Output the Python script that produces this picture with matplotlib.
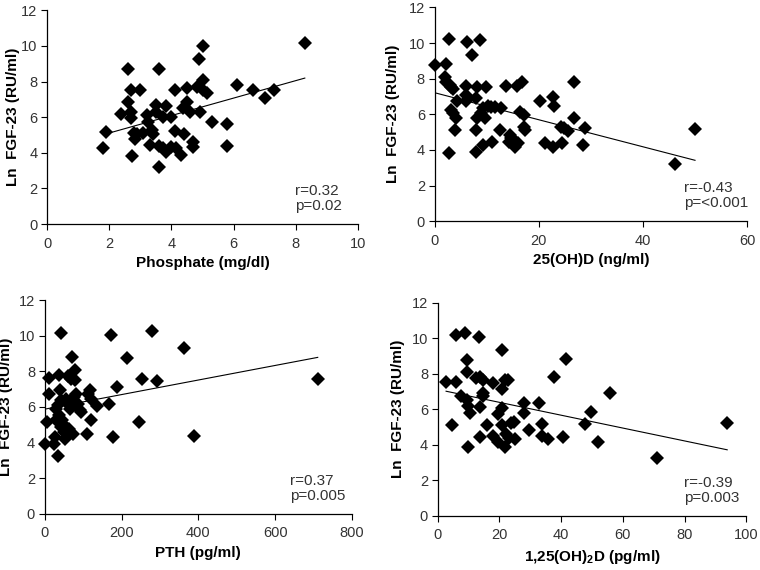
import numpy as np
import matplotlib
matplotlib.use('Agg')
import matplotlib.pyplot as plt

plt.rcParams['font.family'] = ['Liberation Sans', 'DejaVu Sans']
plt.rcParams['mathtext.fontset'] = 'custom'
plt.rcParams['mathtext.rm'] = 'Liberation Sans'
plt.rcParams['mathtext.bf'] = 'Liberation Sans:bold'

# Painel 1: fosfato
phosphate = [1.81, 1.90, 2.38, 2.61, 2.61, 2.69, 2.69, 2.69, 2.72, 2.80, 2.83, 2.88, 2.99, 3.09,
             3.20, 3.23, 3.31, 3.39, 3.42, 3.50, 3.50, 3.61, 3.61, 3.61, 3.72, 3.82, 3.82, 3.72,
             3.97, 4.00, 4.11, 4.11, 4.16, 4.30, 4.40, 4.38, 4.49, 4.49, 4.59, 4.70, 4.70, 4.81,
             4.89, 4.91, 5.00, 5.02, 5.02, 5.13, 5.31, 5.80, 5.80, 6.11, 6.61, 7.00, 7.29, 8.29]
fgf_phosphate = [4.24, 5.18, 6.15, 8.69, 6.86, 7.51, 6.30, 5.93, 3.83, 5.12, 4.75, 5.08, 7.51, 5.12,
                 6.11, 5.74, 4.43, 5.27, 5.08, 6.67, 6.30, 8.73, 4.37, 3.21, 4.24, 6.62, 4.06, 6.02,
                 4.34, 6.02, 5.23, 7.51, 4.24, 3.87, 5.08, 6.49, 7.66, 6.86, 6.30, 4.62, 4.34, 7.70,
                 9.29, 6.30, 10.0, 8.07, 7.51, 7.36, 5.74, 5.64, 4.39, 7.79, 7.51, 7.05, 7.51, 10.19]

# Painel 2: 25(OH)D
vitd25 = [0.13, 2.24, 2.69, 2.69, 1.92, 2.24, 2.88, 3.2, 3.5, 3.2, 3.5, 4.03, 3.84, 4.35,
          5.95, 5.95, 6.08, 6.27, 7.23, 8.0, 8.2, 7.87, 8.0, 8.2, 8.64, 8.96, 9.28, 9.6,
          9.28, 9.92, 10.24, 10.88, 11.07, 11.52, 12.5, 12.8, 13.6, 14.4, 14.3, 14.6, 14.9, 15.4,
          15.7, 16.0, 15.8, 16.8, 16.3, 17.1, 17.1, 17.3, 20.2, 21.1, 22.8, 23.0, 22.8, 24.5,
          24.3, 24.9, 25.6, 26.7, 26.7, 28.5, 28.9, 46.1, 50.0]
fgf_vitd25 = [8.78, 8.82, 10.24, 3.85, 8.12, 7.84, 7.65, 7.52, 7.41, 6.25, 6.06, 5.78, 5.12, 6.72,
              7.56, 7.09, 6.72, 10.06, 9.34, 6.90, 7.52, 5.12, 3.90, 5.78, 10.15, 6.06, 6.34, 5.78,
              4.28, 7.52, 6.44, 6.40, 4.47, 6.40, 5.12, 6.34, 7.56, 4.84, 4.47, 4.65, 4.37, 4.18,
              4.47, 4.37, 7.60, 7.79, 6.15, 5.97, 5.27, 5.12, 6.72, 4.41, 6.96, 6.47, 4.15, 4.37,
              5.31, 5.22, 5.07, 7.84, 5.78, 4.28, 5.25, 3.21, 5.16]

# Painel 3: PTH
pth = [0, 6, 11, 11, 23, 26, 29, 35, 30, 35, 37, 37, 39, 41, 43, 43, 46, 49, 52, 55,
       56, 61, 61, 63, 65, 69, 69, 72, 74, 76, 78, 78, 81, 87, 91, 95, 111, 113, 117, 121,
       121, 136, 167, 173, 178, 187, 213, 245, 254, 278, 292, 362, 388, 711]
fgf_pth = [3.90, 5.16, 7.65, 6.75, 3.94, 4.32, 5.25, 3.25, 5.91, 6.10, 7.79, 5.53, 6.94, 4.88,
           10.17, 6.38, 5.25, 4.60, 4.17, 6.47, 4.88, 7.73, 6.19, 4.78, 5.91, 7.60, 6.38, 8.82,
           4.50, 6.57, 8.07, 7.50, 6.75, 6.19, 5.82, 5.72, 4.47, 6.75, 6.94, 6.47, 5.25, 6.04,
           6.19, 10.04, 4.32, 7.13, 8.78, 5.16, 7.60, 10.26, 7.47, 9.34, 4.37, 7.60]

# Painel 4: 1,25(OH)2D
vitd125 = [2.7, 4.7, 5.8, 5.8, 7.6, 8.8, 9.6, 9.6, 9.6, 9.8, 9.8, 10.5, 12.3, 13.4,
           13.7, 13.7, 13.7, 14.8, 14.8, 14.8, 15.9, 17.8, 17.8, 19.4, 19.6, 20.7, 20.7, 20.7,
           20.7, 21.8, 21.8, 22.1, 22.9, 23.2, 23.8, 24.8, 25.1, 27.8, 27.9, 29.7, 32.8, 33.9,
           33.9, 35.8, 37.7, 40.6, 41.7, 47.7, 49.7, 51.8, 55.9, 70.9, 93.8]
fgf_vitd125 = [7.56, 5.12, 7.56, 10.19, 6.72, 10.28, 8.78, 8.12, 6.53, 6.19, 3.90, 5.78, 7.75, 10.09,
               7.84, 6.12, 4.43, 7.62, 6.94, 6.72, 5.12, 7.47, 4.47, 4.18, 5.74, 7.13, 6.06, 5.12,
               9.34, 7.62, 3.90, 4.62, 7.62, 4.37, 5.25, 5.31, 4.32, 6.38, 5.78, 4.84, 6.34, 5.16,
               4.50, 4.32, 7.80, 4.43, 8.82, 5.18, 5.82, 4.15, 6.90, 3.25, 5.25]

x_labels = ['Phosphate (mg/dl)', '25(OH)D (ng/ml)', 'PTH (pg/ml)',
            r'1,25(OH)$_\mathbf{2}$D (pg/ml)']
x_limits = [(0, 10), (0, 60), (0, 800), (0, 100)]
x_steps = [2, 20, 200, 20]
stats = ['r=0.32\np=0.02', 'r=-0.43\np=<0.001', 'r=0.37\np=0.005', 'r=-0.39\np=0.003']

# posição de cada painel em fração da figura (left, bottom, width, height)
positions = [(0.062, 0.607, 0.409, 0.375),
             (0.572, 0.612, 0.411, 0.375),
             (0.059, 0.099, 0.404, 0.374),
             (0.576, 0.095, 0.406, 0.374)]
# posição horizontal do rótulo do eixo y (fração do eixo)
ylabel_x = [-0.087, -0.112, -0.103, -0.105]


def draw_panel(ax, x, y, xlabel, xlim, xstep, stat, lx):
    """
    Desenha um gráfico de dispersão com a reta de regressão.
    """
    x = np.array(x, dtype=float)
    y = np.array(y, dtype=float)
    ax.plot(x, y, 'D', color='black', markersize=7.5, markeredgewidth=0, clip_on=False)

    # reta de regressão linear
    slope, intercept = np.polyfit(x, y, 1)
    xs = np.array([x.min(), x.max()])
    ax.plot(xs, slope * xs + intercept, color='black', linewidth=0.8)

    ax.set_xlim(*xlim)
    ax.set_ylim(0, 12)
    ax.set_xticks(np.arange(xlim[0], xlim[1] + xstep, xstep))
    ax.set_yticks(np.arange(0, 13, 2))
    for side in ['top', 'right']:
        ax.spines[side].set_visible(False)
    for side in ['left', 'bottom']:
        ax.spines[side].set_linewidth(0.9)
    ax.tick_params(labelsize=10.5, labelcolor='#333333', color='black',
                   length=4, width=0.8, pad=3)
    ax.tick_params(axis='x', pad=5)

    ax.set_xlabel(xlabel, fontsize=11, fontweight='bold', labelpad=4)
    ax.set_ylabel('Ln  FGF-23 (RU/ml)', fontsize=11, fontweight='bold')
    ax.yaxis.set_label_coords(lx, 0.5)
    ax.text(0.797, 0.05, stat, transform=ax.transAxes, fontsize=11,
            color='#333333', va='bottom', ha='left', linespacing=1.1)


def main():
    fig = plt.figure(figsize=(7.6, 5.7), dpi=100)
    xs_all = [phosphate, vitd25, pth, vitd125]
    ys_all = [fgf_phosphate, fgf_vitd25, fgf_pth, fgf_vitd125]
    for i in range(4):
        ax = fig.add_axes(positions[i])
        draw_panel(ax, xs_all[i], ys_all[i], x_labels[i], x_limits[i], x_steps[i],
                   stats[i], ylabel_x[i])
    fig.savefig('out.png', dpi=100)


if __name__ == "__main__":
    main()
